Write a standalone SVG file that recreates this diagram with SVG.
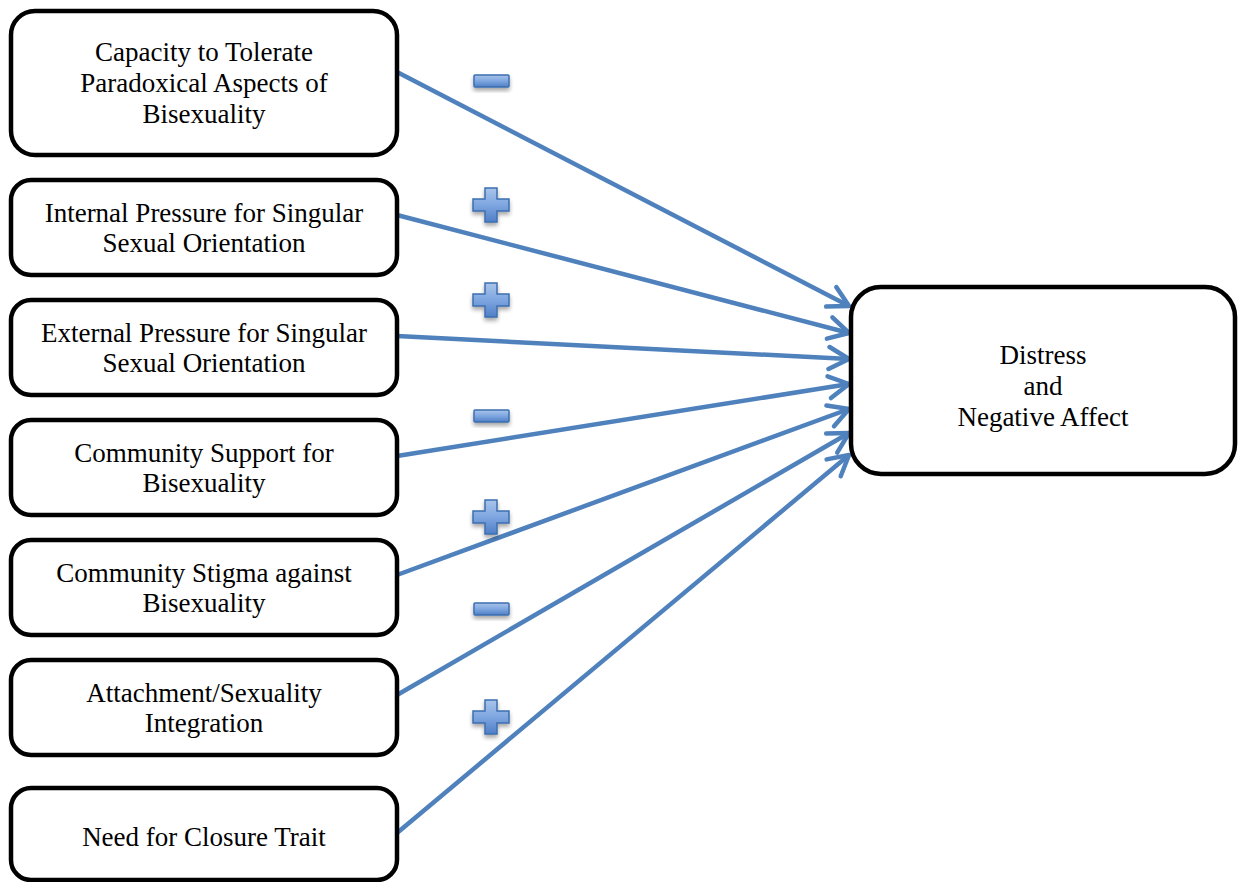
<svg xmlns="http://www.w3.org/2000/svg" width="1238" height="882" viewBox="0 0 1238 882">
  <defs>
    <style>
      .box { fill: #ffffff; stroke: #000000; stroke-width: 4.5; }
      .lbl { font-family: "Liberation Serif", "Times New Roman", serif; font-size: 27px; fill: #000000; text-anchor: middle; }
      .edge { stroke: #4f81bd; stroke-width: 4.5; fill: none; marker-end: url(#chev); }
      .sign { fill: url(#signFill); stroke: #3d6fb0; stroke-width: 1.5; filter: url(#signShadow); }
    </style>
    <marker id="chev" viewBox="0 0 28 28" refX="24" refY="14" markerWidth="28" markerHeight="28" markerUnits="userSpaceOnUse" orient="auto">
      <polyline points="4,3 24,14 4,25" fill="none" stroke="#4f81bd" stroke-width="4.5" stroke-linecap="round" stroke-linejoin="round"/>
    </marker>
    <linearGradient id="signFill" x1="0" y1="0" x2="0" y2="1">
      <stop offset="0" stop-color="#a9c4ea"/>
      <stop offset="0.5" stop-color="#7ea6e0"/>
      <stop offset="1" stop-color="#4f7fc6"/>
    </linearGradient>
    <filter id="signShadow" x="-30%" y="-30%" width="160%" height="180%">
      <feGaussianBlur in="SourceAlpha" stdDeviation="2"/>
      <feOffset dx="0" dy="3" result="b"/>
      <feComponentTransfer><feFuncA type="linear" slope="0.35"/></feComponentTransfer>
      <feMerge><feMergeNode/><feMergeNode in="SourceGraphic"/></feMerge>
    </filter>
  </defs>

  <g id="connectors">
    <line class="edge" x1="397" y1="72" x2="849" y2="306"/>
    <line class="edge" x1="397" y1="215" x2="849" y2="333"/>
    <line class="edge" x1="397" y1="336" x2="849" y2="359"/>
    <line class="edge" x1="397" y1="456" x2="849" y2="384"/>
    <line class="edge" x1="397" y1="575" x2="849" y2="409"/>
    <line class="edge" x1="397" y1="695" x2="849" y2="433"/>
    <line class="edge" x1="397" y1="833" x2="849" y2="455"/>
  </g>

  <g id="signs">
    <rect class="sign" x="474" y="75" width="35" height="12" rx="1"/>
    <path class="sign" d="M485,188 h12 v11 h12 v12 h-12 v11 h-12 v-11 h-12 v-12 h12 z"/>
    <path class="sign" d="M485,283 h12 v11 h12 v12 h-12 v11 h-12 v-11 h-12 v-12 h12 z"/>
    <rect class="sign" x="474" y="410" width="35" height="12" rx="1"/>
    <path class="sign" d="M485,500 h12 v11 h12 v12 h-12 v11 h-12 v-11 h-12 v-12 h12 z"/>
    <rect class="sign" x="474" y="603" width="35" height="12" rx="1"/>
    <path class="sign" d="M485,700 h12 v11 h12 v12 h-12 v11 h-12 v-11 h-12 v-12 h12 z"/>
  </g>

  <g id="n-capacity">
    <rect class="box" x="11" y="11" width="386" height="144" rx="24"/>
    <text class="lbl" x="204" y="61">Capacity to Tolerate</text>
    <text class="lbl" x="204" y="92">Paradoxical Aspects of</text>
    <text class="lbl" x="204" y="123">Bisexuality</text>
  </g>
  <g id="n-internal">
    <rect class="box" x="11" y="180" width="386" height="95" rx="20"/>
    <text class="lbl" x="204" y="222">Internal Pressure for Singular</text>
    <text class="lbl" x="204" y="252">Sexual Orientation</text>
  </g>
  <g id="n-external">
    <rect class="box" x="11" y="300" width="386" height="95" rx="20"/>
    <text class="lbl" x="204" y="342">External Pressure for Singular</text>
    <text class="lbl" x="204" y="372">Sexual Orientation</text>
  </g>
  <g id="n-support">
    <rect class="box" x="11" y="420" width="386" height="95" rx="20"/>
    <text class="lbl" x="204" y="462">Community Support for</text>
    <text class="lbl" x="204" y="492">Bisexuality</text>
  </g>
  <g id="n-stigma">
    <rect class="box" x="11" y="540" width="386" height="95" rx="20"/>
    <text class="lbl" x="204" y="582">Community Stigma against</text>
    <text class="lbl" x="204" y="612">Bisexuality</text>
  </g>
  <g id="n-attachment">
    <rect class="box" x="11" y="660" width="386" height="95" rx="20"/>
    <text class="lbl" x="204" y="702">Attachment/Sexuality</text>
    <text class="lbl" x="204" y="732">Integration</text>
  </g>
  <g id="n-closure">
    <rect class="box" x="11" y="788" width="386" height="92" rx="20"/>
    <text class="lbl" x="204" y="846">Need for Closure Trait</text>
  </g>

  <g id="n-distress">
    <rect class="box" x="851" y="287" width="384" height="187" rx="30"/>
    <text class="lbl" x="1043" y="364">Distress</text>
    <text class="lbl" x="1043" y="395">and</text>
    <text class="lbl" x="1043" y="426">Negative Affect</text>
  </g>
</svg>
